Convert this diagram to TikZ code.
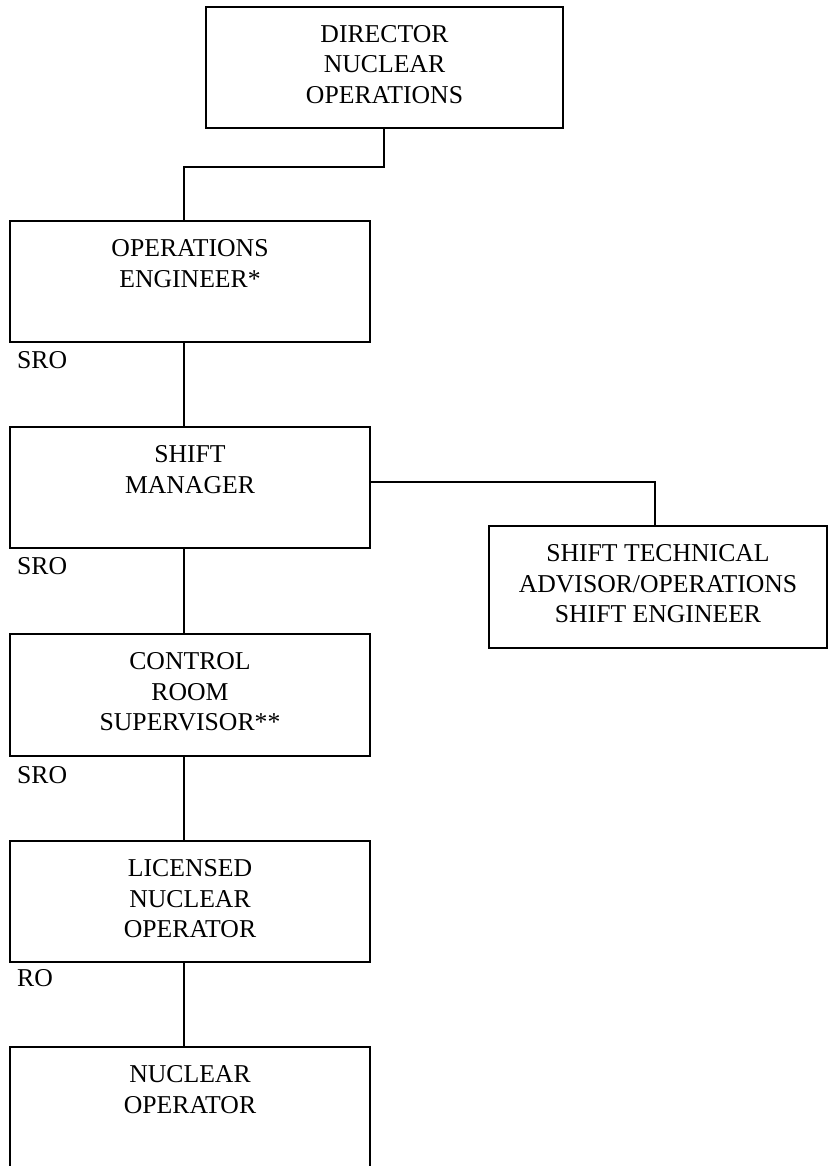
\documentclass[tikz,border=0pt]{standalone}
\usepackage{fontspec}
\setmainfont{Liberation Serif}
\tikzset{
  orgbox/.style={draw, line width=1.6pt, rectangle, inner sep=0pt, outer sep=0pt, anchor=north west},
  conn/.style={line width=1.6pt},
  lic/.style={anchor=west, inner sep=0pt}
}
\newcommand{\bxt}[3]{\parbox[t][#2][t]{#1}{\centering\rule{0pt}{35.5pt}#3}}
\begin{document}
\begin{tikzpicture}[x=1pt,y=-1pt,font=\fontsize{25.7pt}{30.5pt}\selectfont]
\useasboundingbox (0,0) rectangle (838,1166);
\clip (0,0) rectangle (838,1166);
\node[orgbox] (dir) at (206,7) {\bxt{357pt}{121pt}{DIRECTOR\\NUCLEAR\\OPERATIONS}};
\node[orgbox] (ops) at (10,221) {\bxt{360pt}{121pt}{OPERATIONS\\ENGINEER*}};
\node[orgbox] (sm) at (10,427) {\bxt{360pt}{121pt}{SHIFT\\MANAGER}};
\node[orgbox] (sta) at (489,526) {\bxt{338pt}{122pt}{SHIFT TECHNICAL\\ADVISOR/OPERATIONS\\SHIFT ENGINEER}};
\node[orgbox] (crs) at (10,634) {\bxt{360pt}{122pt}{CONTROL\\ROOM\\SUPERVISOR**}};
\node[orgbox] (lno) at (10,841) {\bxt{360pt}{121pt}{LICENSED\\NUCLEAR\\OPERATOR}};
\node[orgbox] (no) at (10,1047) {\bxt{360pt}{130pt}{NUCLEAR\\OPERATOR}};
\node[lic] (l1) at (17,360) {SRO};
\node[lic] (l2) at (17,566) {SRO};
\node[lic] (l3) at (17,775) {SRO};
\node[lic] (l4) at (17,978) {RO};
\coordinate (j0) at (384,167);
\coordinate (j1) at (184,167);
\coordinate (sp) at (184,0);
\coordinate (j2) at (655,482);
\draw[conn] (j0 |- dir.south) -- (j0) -- (j1) -- (j1 |- ops.north);
\draw[conn] (sp |- ops.south) -- (sp |- sm.north);
\draw[conn] (sp |- sm.south) -- (sp |- crs.north);
\draw[conn] (sp |- crs.south) -- (sp |- lno.north);
\draw[conn] (sp |- lno.south) -- (sp |- no.north);
\draw[conn] (sm.east |- j2) -| (j2 |- sta.north);
\end{tikzpicture}
\end{document}
